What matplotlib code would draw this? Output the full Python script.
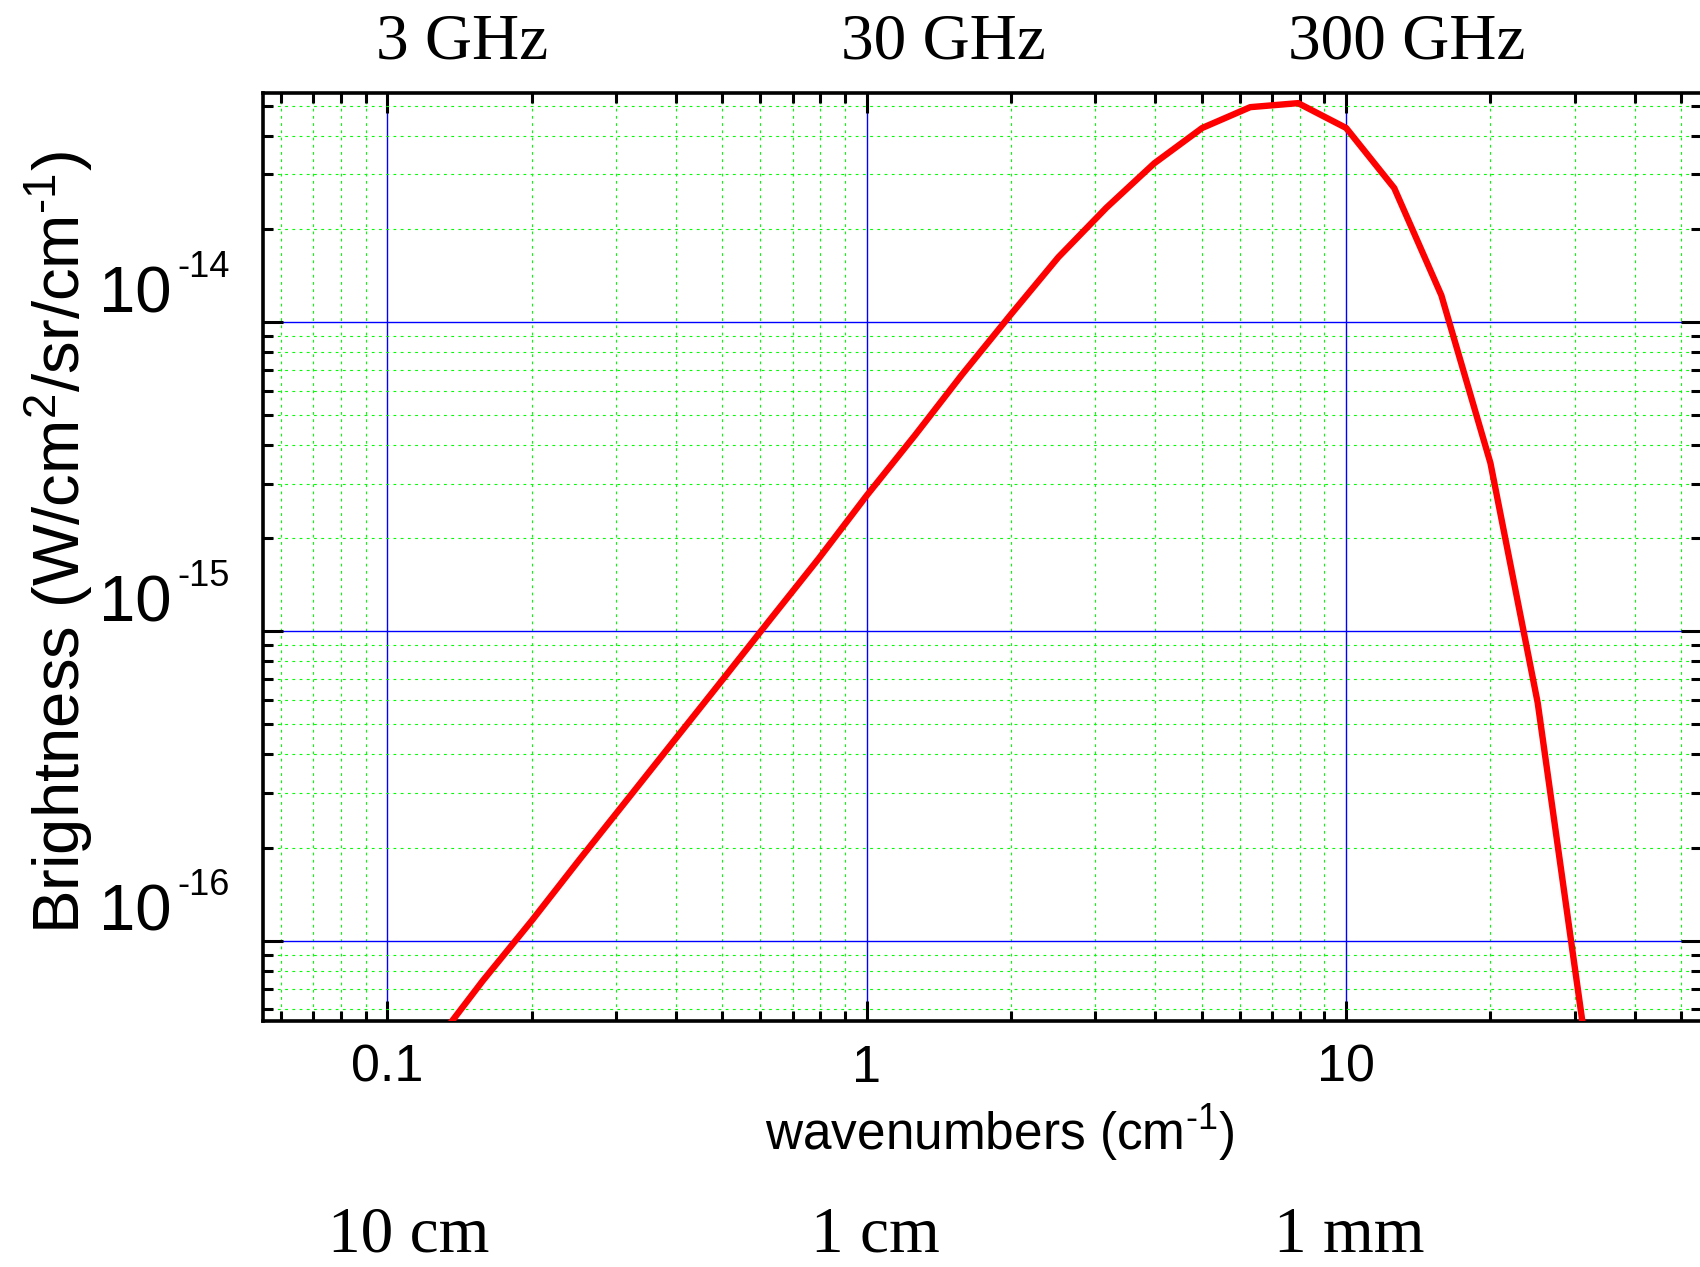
import numpy as np
import matplotlib.pyplot as plt
from matplotlib.ticker import LogLocator, NullFormatter
from matplotlib.transforms import blended_transform_factory

# spectrum (cm^-1 vs W/cm^2/sr/cm^-1)
wavenumber = [0.1, 0.126, 0.158, 0.2, 0.251, 0.316, 0.398, 0.501, 0.631, 0.794,
              1.0, 1.26, 1.58, 2.0, 2.51, 3.16, 3.98, 5.01, 6.31, 7.94,
              10.0, 12.6, 15.8, 20.0, 25.1, 31.6]
brightness = [2.95e-17, 4.68e-17, 7.41e-17, 1.16e-16, 1.82e-16, 2.85e-16, 4.47e-16, 7.0e-16, 1.10e-15, 1.72e-15,
              2.75e-15, 4.3e-15, 6.76e-15, 1.06e-14, 1.62e-14, 2.34e-14, 3.26e-14, 4.24e-14, 4.95e-14, 5.1e-14,
              4.24e-14, 2.71e-14, 1.22e-14, 3.5e-15, 5.87e-16, 4.6e-17]

x_ticks = [0.1, 1, 10]
x_tick_labels = ['0.1', '1', '10']
y_ticks = [1e-16, 1e-15, 1e-14]
y_exponents = ['-16', '-15', '-14']
freq_labels = ['3 GHz', '30 GHz', '300 GHz']
wavelength_labels = ['10 cm', '1 cm', '1 mm']

plt.rcParams['font.family'] = ['Liberation Sans', 'DejaVu Sans']
plt.rcParams['mathtext.fontset'] = 'custom'
plt.rcParams['mathtext.rm'] = 'Liberation Sans'
plt.rcParams['mathtext.it'] = 'Liberation Sans:italic'
plt.rcParams['mathtext.bf'] = 'Liberation Sans:bold'

fig = plt.figure(figsize=(17, 12.67), dpi=100)
ax = fig.add_axes([0.1547, 0.1942, 0.8459, 0.7324])

ax.set_xscale('log')
ax.set_yscale('log')
ax.set_xlim(0.055, 55)
ax.set_ylim(5.5e-17, 5.5e-14)

ax.plot(wavenumber, brightness, color='#ff0000', lw=4.6, zorder=3)

# ticks
ax.set_xticks(x_ticks, labels=x_tick_labels)
ax.xaxis.set_minor_locator(LogLocator(base=10, subs=np.arange(2, 10)))
ax.xaxis.set_minor_formatter(NullFormatter())
ax.set_yticks(y_ticks)
ax.yaxis.set_minor_locator(LogLocator(base=10, subs=np.arange(2, 10)))
ax.yaxis.set_minor_formatter(NullFormatter())

ax.grid(which='major', color='#0000ff', lw=1.0, ls='-')
ax.grid(which='minor', color='#00ff00', lw=0.8, ls=(0, (2.5, 4.0)))

ax.tick_params(which='both', direction='in', top=True, right=True, width=2.2, color='black')
ax.tick_params(which='major', length=14.4)
ax.tick_params(which='minor', length=7.2)
ax.tick_params(axis='x', labelsize=37.5, pad=16.5)
ax.tick_params(axis='y', labelleft=False)
for s in ax.spines.values():
    s.set_linewidth(2.6)

# y tick labels drawn by hand (small hyphen superscript)
trans = blended_transform_factory(ax.transAxes, ax.transData)
for val, ex in zip(y_ticks, y_exponents):
    base = ax.annotate('10', xy=(0, val), xycoords=trans, xytext=(-91 * 0.72, 10 * 0.72),
                       textcoords='offset points', ha='right', va='baseline', fontsize=47)
    ax.annotate(ex, xy=(1, 1), xycoords=base, xytext=(3.6, 11),
                textcoords='offset points', ha='left', va='top', fontsize=26)

ax.set_ylabel('Brightness (W/cm$^{2}$/sr/cm$^{\u2010 1}$)', fontsize=47)
ax.yaxis.set_label_coords(-0.117, 0.515)
ax.set_xlabel('wavenumbers (cm$^{\u2010 1}$)', fontsize=37)
ax.xaxis.set_label_coords(0.5126, -0.088)

# frequency / wavelength annotations
for xpos, lab in zip([0.2718, 0.5547, 0.8276], freq_labels):
    fig.text(xpos, 0.9542, lab, family='Liberation Serif', fontsize=47, ha='center', va='baseline')
for xpos, lab in zip([0.2406, 0.5147, 0.7935], wavelength_labels):
    fig.text(xpos, 0.001, lab, family='Liberation Serif', fontsize=47, ha='center', va='bottom')

fig.savefig('out.png', dpi=100)
